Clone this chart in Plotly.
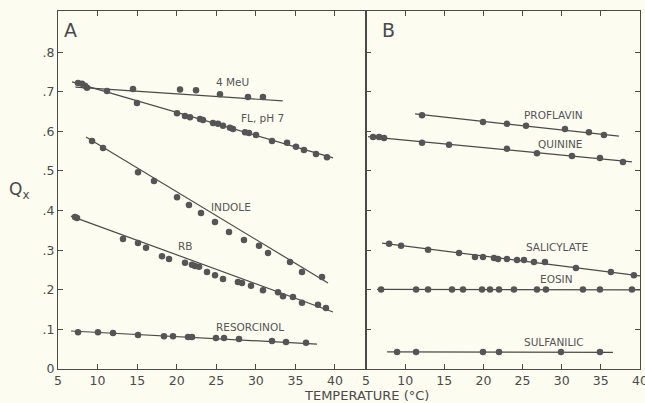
import plotly.graph_objects as go

# ---------------- data (temperature °C, Qx) ----------------
# Panel A
meu_x = [8.66, 14.48, 20.42, 22.44, 25.47, 29.0, 30.9]
meu_y = [0.710, 0.707, 0.706, 0.704, 0.694, 0.687, 0.687]
meu_fit_x = [7.2, 33.4]
meu_fit_y = [0.712, 0.677]

fl_x = [7.53, 8.03, 8.41, 11.19, 14.98, 20.04, 21.05, 21.68, 22.94, 23.32, 24.59, 25.22,
        25.85, 26.73, 27.11, 28.63, 29.13, 30.02, 32.04, 33.94, 35.07, 36.08, 37.6, 38.99]
fl_y = [0.722, 0.720, 0.715, 0.702, 0.672, 0.646, 0.639, 0.636, 0.631, 0.629, 0.621, 0.619,
        0.614, 0.609, 0.606, 0.598, 0.596, 0.591, 0.576, 0.571, 0.561, 0.553, 0.543, 0.535]
fl_fit_x = [6.77, 39.75]
fl_fit_y = [0.725, 0.533]

indole_x = [9.30, 10.69, 15.11, 17.13, 20.04, 21.55, 23.07, 24.84, 26.61, 28.5, 30.4, 31.54,
            34.32, 35.83, 38.36]
indole_y = [0.576, 0.558, 0.497, 0.475, 0.434, 0.414, 0.394, 0.371, 0.346, 0.326, 0.311, 0.293,
            0.270, 0.245, 0.232]
indole_fit_x = [8.54, 39.12]
indole_fit_y = [0.586, 0.217]

rb_x = [7.15, 7.40, 13.21, 15.11, 16.12, 18.14, 19.03, 21.05, 21.93, 22.31, 22.82, 23.83, 24.84,
        25.85, 27.74, 28.25, 29.39, 30.9, 32.8, 33.43, 34.69, 35.83, 37.85, 38.86]
rb_y = [0.384, 0.381, 0.328, 0.318, 0.306, 0.285, 0.278, 0.268, 0.263, 0.260, 0.258, 0.245, 0.237,
        0.227, 0.220, 0.217, 0.210, 0.199, 0.194, 0.184, 0.182, 0.167, 0.162, 0.154]
rb_fit_x = [6.64, 39.75]
rb_fit_y = [0.386, 0.144]

res_x = [7.53, 10.05, 11.95, 15.11, 18.39, 19.53, 21.43, 21.93, 24.96, 25.98, 27.87, 32.04, 33.81, 36.34]
res_y = [0.093, 0.093, 0.091, 0.086, 0.083, 0.083, 0.081, 0.081, 0.078, 0.078, 0.076, 0.071, 0.068, 0.066]
res_fit_x = [6.64, 37.73]
res_fit_y = [0.096, 0.063]

# Panel B
pro_x = [12.15, 19.94, 23.01, 25.44, 30.42, 33.48, 35.4]
pro_y = [0.641, 0.624, 0.619, 0.614, 0.606, 0.598, 0.591]
pro_fit_x = [11.26, 37.32]
pro_fit_y = [0.644, 0.588]

qui_x = [5.89, 6.66, 7.30, 12.15, 15.6, 23.01, 26.84, 31.31, 34.89, 37.83]
qui_y = [0.586, 0.586, 0.583, 0.571, 0.566, 0.556, 0.545, 0.538, 0.533, 0.523]
qui_fit_x = [5.26, 38.98]
qui_fit_y = [0.587, 0.523]

sal_x = [7.94, 9.47, 12.92, 16.88, 18.92, 19.94, 21.35, 21.86, 23.01, 24.29, 25.18, 26.46, 27.86,
         31.82, 36.29, 39.23]
sal_y = [0.316, 0.311, 0.301, 0.293, 0.283, 0.283, 0.280, 0.278, 0.278, 0.275, 0.275, 0.270, 0.270,
         0.255, 0.245, 0.237]
sal_fit_x = [7.04, 40.0]
sal_fit_y = [0.318, 0.235]

eos_x = [6.92, 11.39, 12.92, 15.98, 17.39, 19.82, 20.84, 21.99, 23.9, 26.84, 27.99, 32.72, 34.89, 38.98]
eos_y = [0.201] * len(eos_x)
eos_fit_x = [6.4, 40.0]
eos_fit_y = [0.201, 0.200]

sul_x = [8.96, 11.39, 19.94, 21.99, 29.91, 34.89]
sul_y = [0.043, 0.043, 0.043, 0.043, 0.043, 0.043]
sul_fit_x = [7.68, 36.55]
sul_fit_y = [0.043, 0.042]

# labels: text, x, y
labels_a = [("4 MeU", 27.0, 0.725), ("FL, pH 7", 30.8, 0.634), ("INDOLE", 26.9, 0.409),
            ("RB", 21.05, 0.311), ("RESORCINOL", 29.3, 0.106)]
labels_b = [("PROFLAVIN", 29.0, 0.641), ("QUININE", 29.9, 0.568), ("SALICYLATE", 29.4, 0.308),
            ("EOSIN", 29.4, 0.227), ("SULFANILIC", 29.0, 0.068)]

y_ticks = [0, 0.1, 0.2, 0.3, 0.4, 0.5, 0.6, 0.7, 0.8]
y_tick_text = ["0", ".1", ".2", ".3", ".4", ".5", ".6", ".7", ".8"]
x_ticks = [5, 10, 15, 20, 25, 30, 35, 40]
x_tick_text = ["5", "10", "15", "20", "25", "30", "35", "40"]

# ---------------- figure ----------------
INK = "#4a4a4a"
BG = "#fcfcf1"
FONT = "DejaVu Sans"

fig = go.Figure()

panel_a = [(meu_x, meu_y, meu_fit_x, meu_fit_y), (fl_x, fl_y, fl_fit_x, fl_fit_y),
           (indole_x, indole_y, indole_fit_x, indole_fit_y), (rb_x, rb_y, rb_fit_x, rb_fit_y),
           (res_x, res_y, res_fit_x, res_fit_y)]
panel_b = [(pro_x, pro_y, pro_fit_x, pro_fit_y), (qui_x, qui_y, qui_fit_x, qui_fit_y),
           (sal_x, sal_y, sal_fit_x, sal_fit_y), (eos_x, eos_y, eos_fit_x, eos_fit_y),
           (sul_x, sul_y, sul_fit_x, sul_fit_y)]

for series, xa, ya in [(panel_a, "x", "y"), (panel_b, "x2", "y2")]:
    for px, py, fx, fy in series:
        fig.add_trace(go.Scatter(x=fx, y=fy, mode="lines", xaxis=xa, yaxis=ya,
                                 line=dict(color=INK, width=1.2), showlegend=False,
                                 hoverinfo="skip"))
        fig.add_trace(go.Scatter(x=px, y=py, mode="markers", xaxis=xa, yaxis=ya,
                                 marker=dict(color="#555555", size=6.5), showlegend=False))

ann = []
for t, x, y in labels_a:
    ann.append(dict(text=t, x=x, y=y, xref="x", yref="y", showarrow=False,
                    xanchor="center", yanchor="middle",
                    font=dict(family=FONT, size=10.5, color="#555")))
for t, x, y in labels_b:
    ann.append(dict(text=t, x=x, y=y, xref="x2", yref="y2", showarrow=False,
                    xanchor="center", yanchor="middle",
                    font=dict(family=FONT, size=10.5, color="#555")))
# pixel-placed texts (x from left, y from top)
pix = [("A", 70, 30, 19), ("B", 388, 30, 19), ("Q<sub>x</sub>", 19, 190, 17),
       ("TEMPERATURE (°C)", 366, 395, 13)]

L, R, T, B = 58, 5, 11, 34
PW, PH = 645 - L - R, 403 - T - B
for t, xp, yp, sz in pix:
    ann.append(dict(text=t, x=(xp - L) / PW, y=(403 - yp - B) / PH, xref="paper", yref="paper",
                    xanchor="center", yanchor="middle",
                    showarrow=False, font=dict(family=FONT, size=sz, color=INK)))

split = (366 - L) / PW

axis_common = dict(showline=True, linecolor=INK, linewidth=1.3, ticks="inside", ticklen=5,
                   tickcolor=INK, showgrid=False, zeroline=False, automargin=False,
                   tickfont=dict(family=FONT, size=12.5, color=INK))

fig.update_layout(
    width=645, height=403,
    margin=dict(l=L, r=R, t=T, b=B, autoexpand=False),
    paper_bgcolor=BG, plot_bgcolor=BG,
    annotations=ann,
    xaxis=dict(domain=[0, split], range=[5, 43.92], tickvals=x_ticks, ticktext=x_tick_text,
               mirror="ticks", ticklabeloverflow="allow", **axis_common),
    yaxis=dict(range=[0, 0.904], tickvals=y_ticks, ticktext=y_tick_text, mirror=True,
               **axis_common),
    xaxis2=dict(domain=[split, 1], range=[4.99, 40.01], tickvals=x_ticks, ticktext=x_tick_text,
                mirror="ticks", ticklabeloverflow="allow", anchor="y2", **axis_common),
    yaxis2=dict(range=[0, 0.904], tickvals=y_ticks, showticklabels=False, mirror="ticks",
                anchor="x2", **axis_common),
)

fig.write_html("out.html", config={"displayModeBar": False},
               post_script="document.body.style.margin='0';document.body.style.background='%s';" % BG)
